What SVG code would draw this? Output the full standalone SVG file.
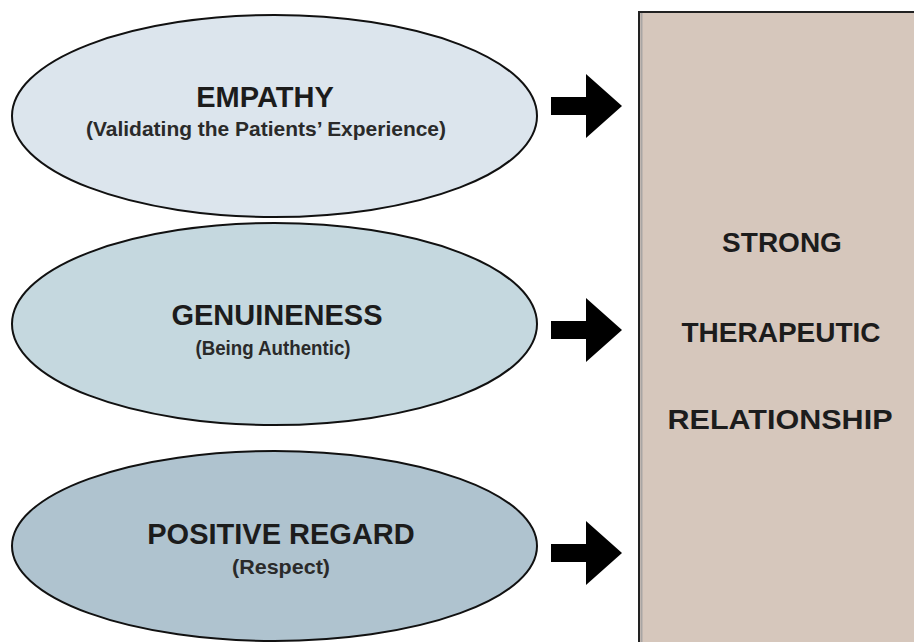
<svg xmlns="http://www.w3.org/2000/svg" width="914" height="642" viewBox="0 0 914 642">
  <style>
    .oval { stroke: #111; stroke-width: 2; }
    .title { font-family: "Liberation Sans", Arial, sans-serif; font-weight: bold; font-size: 29px; fill: #1c1c1c; text-anchor: middle; }
    .sub { font-family: "Liberation Sans", Arial, sans-serif; font-weight: bold; font-size: 20.5px; fill: #2a2a2a; text-anchor: middle; }
    .big { font-family: "Liberation Sans", Arial, sans-serif; font-weight: bold; font-size: 28px; fill: #1c1c1c; text-anchor: middle; }
    .arrow { fill: #000; }
  </style>
  <defs>
    <path id="arr" d="M0,-9 H35 V-32 L71,0 L35,32 V9 H0 Z"/>
  </defs>
  <rect width="914" height="642" fill="#ffffff"/>

  <g id="result">
    <rect x="639" y="12" width="290" height="650" fill="#d6c7bc" stroke="#222" stroke-width="2"/>
    <line x1="641.5" y1="13" x2="641.5" y2="642" stroke="#a9a6a4" stroke-width="2"/>
    <text class="big" x="782" y="252">STRONG</text>
    <text class="big" x="781" y="342">THERAPEUTIC</text>
    <text class="big" x="780" y="429" textLength="225" lengthAdjust="spacingAndGlyphs">RELATIONSHIP</text>
  </g>

  <g id="empathy">
    <ellipse class="oval" cx="274.5" cy="116" rx="262.5" ry="101" fill="#dce5ed"/>
    <text class="title" x="265" y="107">EMPATHY</text>
    <text class="sub" x="266" y="136" textLength="360" lengthAdjust="spacingAndGlyphs">(Validating the Patients’ Experience)</text>
  </g>

  <g id="genuineness">
    <ellipse class="oval" cx="274.5" cy="324" rx="262.5" ry="101" fill="#c5d8df"/>
    <text class="title" x="277" y="325">GENUINENESS</text>
    <text class="sub" x="273" y="355" textLength="155" lengthAdjust="spacingAndGlyphs">(Being Authentic)</text>
  </g>

  <g id="positive-regard">
    <ellipse class="oval" cx="274.5" cy="546" rx="262.5" ry="95" fill="#afc3cf"/>
    <text class="title" x="281" y="544">POSITIVE REGARD</text>
    <text class="sub" x="281" y="574" textLength="98" lengthAdjust="spacingAndGlyphs">(Respect)</text>
  </g>

  <g id="connectors">
    <use href="#arr" class="arrow" x="551" y="106"/>
    <use href="#arr" class="arrow" x="551" y="330"/>
    <use href="#arr" class="arrow" x="551" y="553"/>
  </g>
</svg>
